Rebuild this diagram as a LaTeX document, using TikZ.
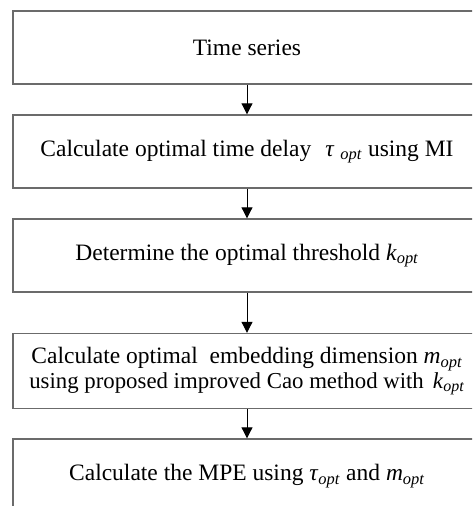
\documentclass[tikz,border=0pt]{standalone}
\usepackage{fontspec}
\setmainfont{Liberation Serif}
\usetikzlibrary{arrows.meta}
\newcommand{\sub}[1]{\textsubscript{\textit{#1}}}
\begin{document}
\begin{tikzpicture}[x=1pt,y=-1pt,
  box/.style={draw=black!58, line width=1.4pt, minimum width=468pt, inner sep=0pt, align=center,
    font=\fontsize{23.5}{24.5}\selectfont},
  arr/.style={draw=black, line width=1pt, -{Triangle[width=11pt,length=11pt]}}]
\useasboundingbox (0,0) rectangle (472,506);
\clip (0,0) rectangle (472,506);
\fill[white] (0,0) rectangle (472,506);
\node[box, minimum height=73pt] (b1) at (247,47.5) {Time series};
\node[box, minimum height=73pt] (b2) at (247,151.5) {Calculate optimal time delay \hspace{0.35em}\textit{τ}\hspace{0.25em}\sub{opt} using MI};
\node[box, minimum height=73pt] (b3) at (247,255.5) {Determine the optimal threshold \textit{k}\sub{opt}};
\node[box, minimum height=75pt] (b4) at (247,371) {Calculate optimal\hspace{0.5em}embedding dimension \textit{m}\sub{opt}\\{\fontsize{22.8}{24.5}\selectfont using proposed improved Cao method with\hspace{0.4em}\textit{k}\sub{opt}}};
\node[box, minimum height=74pt] (b5) at (247,476) {Calculate the MPE using \textit{τ}\sub{opt} and \textit{m}\sub{opt}};
\draw[arr] (b1.south) -- (b2.north);
\draw[arr] (b2.south) -- (b3.north);
\draw[arr] (b3.south) -- (b4.north);
\draw[arr] (b4.south) -- (b5.north);
\end{tikzpicture}
\end{document}
